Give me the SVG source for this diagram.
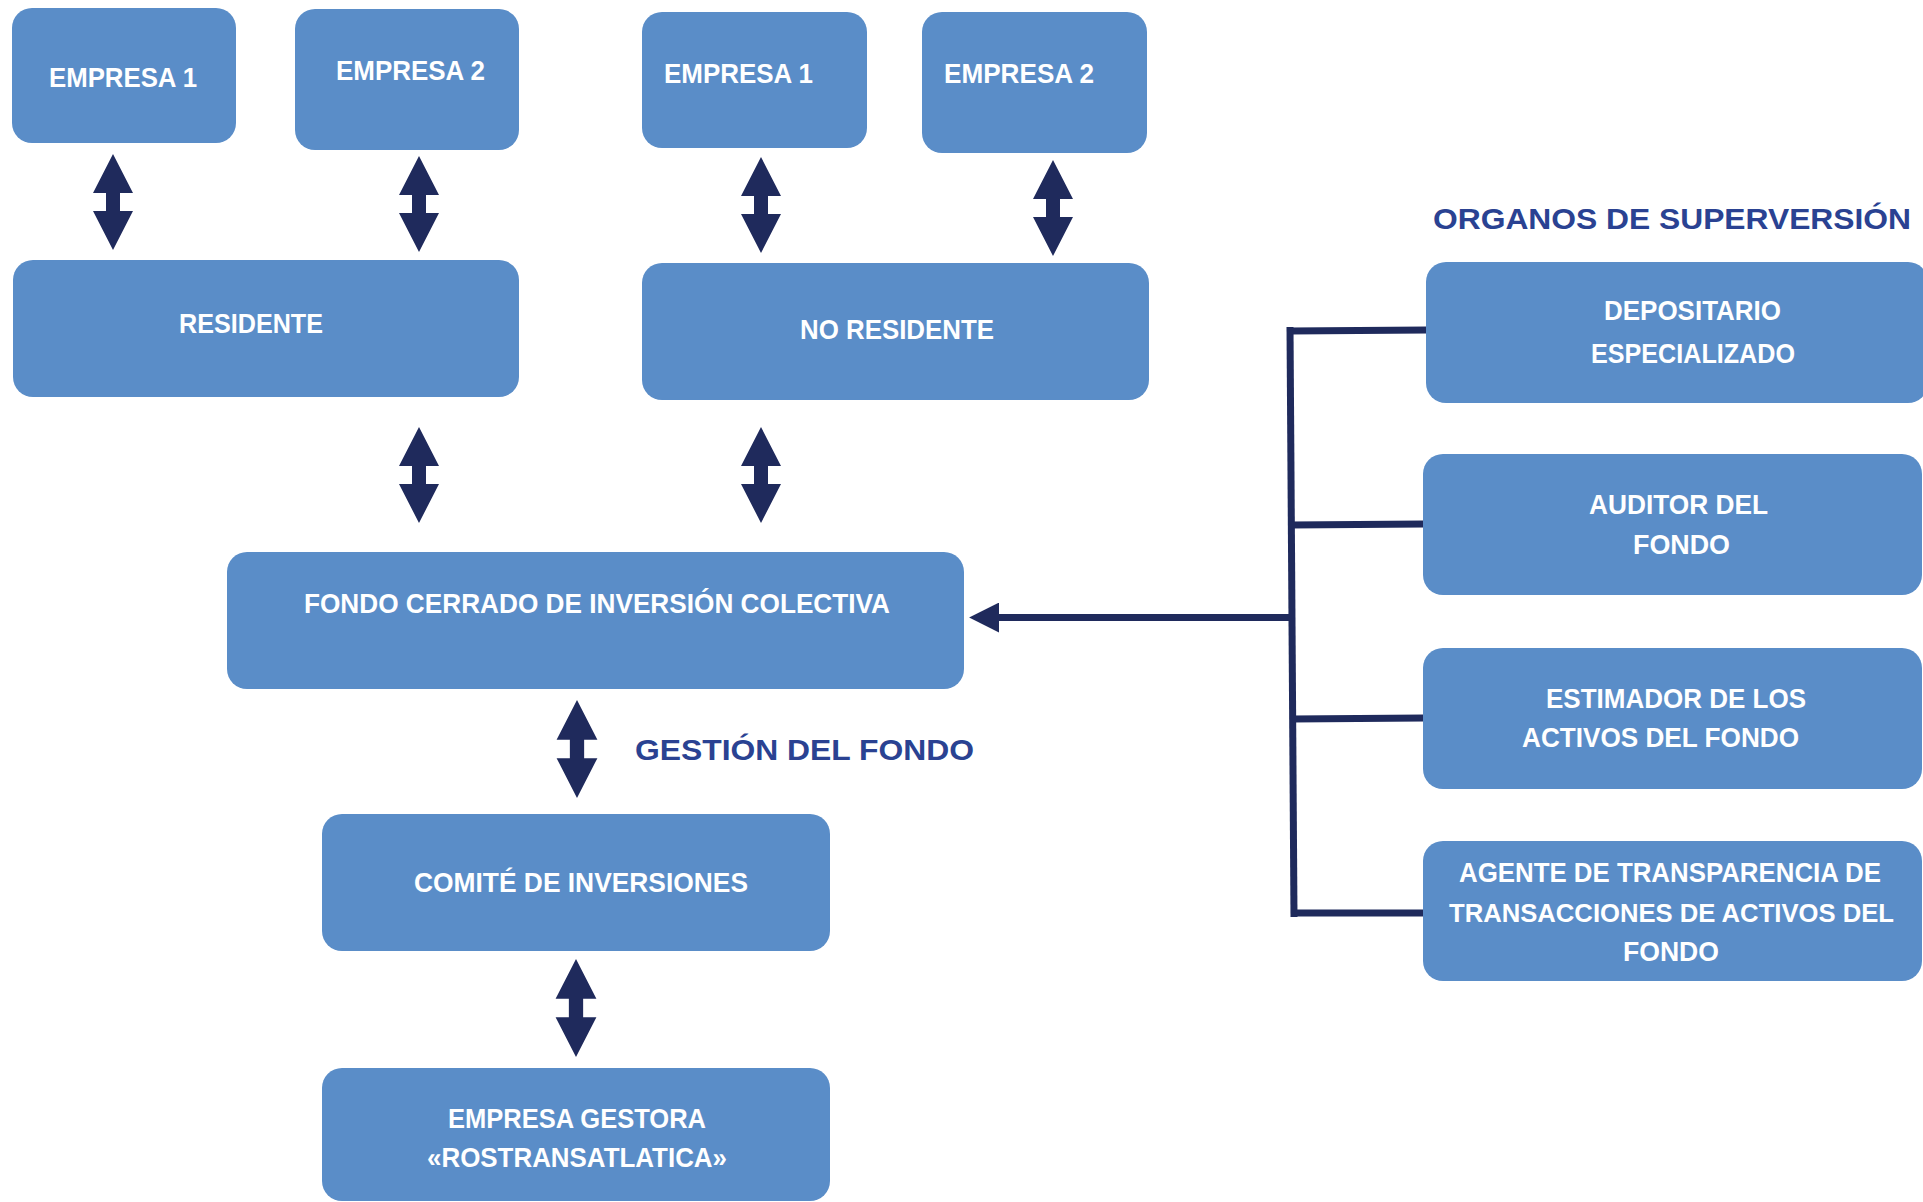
<svg xmlns="http://www.w3.org/2000/svg" xmlns:xlink="http://www.w3.org/1999/xlink" width="1923" height="1202" viewBox="0 0 1923 1202">
<style>
.box{fill:#5A8DC8;}
.lbl{fill:#FFFFFF;font-family:"Liberation Sans",Arial,sans-serif;font-weight:bold;font-size:28px;}
.sm{font-size:26px;}
.hd{fill:#2A4292;font-family:"Liberation Sans",Arial,sans-serif;font-weight:bold;font-size:30px;}
.ln{fill:none;stroke:#1F2A5C;stroke-width:7;}
.dbl{fill:#1F2A5C;}
</style>
<defs>
<path id="dbl" d="M0,0 L20,39 L7,39 L7,57 L20,57 L0,96 L-20,57 L-7,57 L-7,39 L-20,39 Z"/>
<marker id="ah" markerUnits="userSpaceOnUse" markerWidth="30" markerHeight="30" viewBox="0 0 28 28" refX="2" refY="14" orient="auto">
<path d="M0,0 L28,14 L0,28 Z" fill="#1F2A5C"/>
</marker>
</defs>
<rect width="1923" height="1202" fill="#FFFFFF"/>

<g id="connectors">
<g class="dbl">
<use xlink:href="#dbl" href="#dbl" transform="translate(113,154)"/>
<use xlink:href="#dbl" href="#dbl" transform="translate(419,156)"/>
<use xlink:href="#dbl" href="#dbl" transform="translate(761,157)"/>
<use xlink:href="#dbl" href="#dbl" transform="translate(1053,160)"/>
<use xlink:href="#dbl" href="#dbl" transform="translate(419,427)"/>
<use xlink:href="#dbl" href="#dbl" transform="translate(761,427)"/>
<use xlink:href="#dbl" href="#dbl" transform="translate(577,700) scale(1.02,1.02)"/>
<use xlink:href="#dbl" href="#dbl" transform="translate(576,959) scale(1.02,1.02)"/>
</g>
<path class="ln" d="M1290,327 L1294,917"/>
<path class="ln" d="M1290,331 L1427,330"/>
<path class="ln" d="M1291,525 L1424,524"/>
<path class="ln" d="M1292,719 L1424,718"/>
<path class="ln" d="M1294,913 L1424,913"/>
<path class="ln" d="M1291,617.5 L997,617.5" marker-end="url(#ah)"/>
</g>

<g id="empresa1-res">
<rect class="box" x="12" y="8" width="224" height="135" rx="20"/>
<text class="lbl" x="49" y="87" textLength="148" lengthAdjust="spacingAndGlyphs">EMPRESA 1</text>
</g>
<g id="empresa2-res">
<rect class="box" x="295" y="9" width="224" height="141" rx="20"/>
<text class="lbl" x="336" y="80" textLength="149" lengthAdjust="spacingAndGlyphs">EMPRESA 2</text>
</g>
<g id="residente">
<rect class="box" x="13" y="260" width="506" height="137" rx="20"/>
<text class="lbl" x="179" y="333" textLength="144" lengthAdjust="spacingAndGlyphs">RESIDENTE</text>
</g>
<g id="empresa1-nores">
<rect class="box" x="642" y="12" width="225" height="136" rx="20"/>
<text class="lbl" x="664" y="83" textLength="149" lengthAdjust="spacingAndGlyphs">EMPRESA 1</text>
</g>
<g id="empresa2-nores">
<rect class="box" x="922" y="12" width="225" height="141" rx="20"/>
<text class="lbl" x="944" y="83" textLength="150" lengthAdjust="spacingAndGlyphs">EMPRESA 2</text>
</g>
<g id="no-residente">
<rect class="box" x="642" y="263" width="507" height="137" rx="20"/>
<text class="lbl" x="800" y="339" textLength="194" lengthAdjust="spacingAndGlyphs">NO RESIDENTE</text>
</g>
<g id="fondo">
<rect class="box" x="227" y="552" width="737" height="137" rx="20"/>
<text class="lbl" x="304" y="613" textLength="586" lengthAdjust="spacingAndGlyphs">FONDO CERRADO DE INVERSIÓN COLECTIVA</text>
</g>
<g id="gestion-label">
<text class="hd" x="635" y="760" textLength="339" lengthAdjust="spacingAndGlyphs">GESTIÓN DEL FONDO</text>
</g>
<g id="comite">
<rect class="box" x="322" y="814" width="508" height="137" rx="20"/>
<text class="lbl" x="414" y="892" textLength="334" lengthAdjust="spacingAndGlyphs">COMITÉ DE INVERSIONES</text>
</g>
<g id="gestora">
<rect class="box" x="322" y="1068" width="508" height="133" rx="20"/>
<text class="lbl" x="448" y="1128" textLength="258" lengthAdjust="spacingAndGlyphs">EMPRESA GESTORA</text>
<text class="lbl" x="427" y="1167" textLength="300" lengthAdjust="spacingAndGlyphs">«ROSTRANSATLATICA»</text>
</g>
<g id="organos-title">
<text class="hd" x="1433" y="229" textLength="478" lengthAdjust="spacingAndGlyphs">ORGANOS DE SUPERVERSIÓN</text>
</g>
<g id="depositario">
<rect class="box" x="1426" y="262" width="502" height="141" rx="20"/>
<text class="lbl" x="1604" y="320" textLength="177" lengthAdjust="spacingAndGlyphs">DEPOSITARIO</text>
<text class="lbl" x="1591" y="363" textLength="204" lengthAdjust="spacingAndGlyphs">ESPECIALIZADO</text>
</g>
<g id="auditor">
<rect class="box" x="1423" y="454" width="499" height="141" rx="20"/>
<text class="lbl" x="1589" y="514" textLength="179" lengthAdjust="spacingAndGlyphs">AUDITOR DEL</text>
<text class="lbl" x="1633" y="554" textLength="97" lengthAdjust="spacingAndGlyphs">FONDO</text>
</g>
<g id="estimador">
<rect class="box" x="1423" y="648" width="499" height="141" rx="20"/>
<text class="lbl" x="1546" y="708" textLength="260" lengthAdjust="spacingAndGlyphs">ESTIMADOR DE LOS</text>
<text class="lbl" x="1522" y="747" textLength="277" lengthAdjust="spacingAndGlyphs">ACTIVOS DEL FONDO</text>
</g>
<g id="agente">
<rect class="box" x="1423" y="841" width="499" height="140" rx="20"/>
<text class="lbl" x="1670" y="882" text-anchor="middle" textLength="422" lengthAdjust="spacingAndGlyphs">AGENTE DE TRANSPARENCIA DE</text>
<text class="lbl sm" x="1671.5" y="922" text-anchor="middle" textLength="445" lengthAdjust="spacingAndGlyphs">TRANSACCIONES DE ACTIVOS DEL</text>
<text class="lbl" x="1623" y="961" textLength="96" lengthAdjust="spacingAndGlyphs">FONDO</text>
</g>
</svg>
